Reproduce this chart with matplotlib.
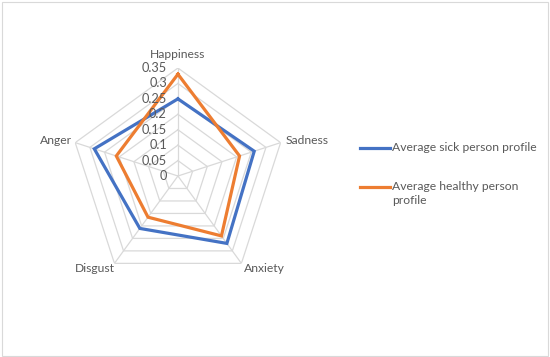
import numpy as np
import matplotlib
matplotlib.use("Agg")
import matplotlib.pyplot as plt
from matplotlib.lines import Line2D
from matplotlib.patches import Rectangle

categories = ["Happiness", "Sadness", "Anxiety", "Disgust", "Anger"]
sick = [0.25, 0.26, 0.27, 0.21, 0.285]
healthy = [0.33, 0.21, 0.24, 0.165, 0.21]
ticks = [0, 0.05, 0.1, 0.15, 0.2, 0.25, 0.3, 0.35]
tick_labels = ["0", "0.05", "0.1", "0.15", "0.2", "0.25", "0.3", "0.35"]
series_names = ["Average sick person profile", "Average healthy person\nprofile"]

plt.rcParams['font.family'] = ['Lato', 'DejaVu Sans']
BLUE = "#4472C4"
ORANGE = "#ED7D31"
GRID = "#D9D9D9"
TXT = "#595959"
FS = 8.7
W, H = 550, 357

fig = plt.figure(figsize=(5.5, 3.57), dpi=100)
fig.patches.append(Rectangle((0.003, 0.004), 0.994, 0.99, transform=fig.transFigure,
                             fill=False, edgecolor="#D9D9D9", linewidth=0.8))
ax = fig.add_axes([0.127, 0.2045, 0.393, 0.605], projection='polar')
ax.set_theta_zero_location('N')
ax.set_theta_direction(-1)
ax.set_ylim(0, 0.35)
ax.grid(False)
ax.spines['polar'].set_visible(False)
ax.set_xticks([])
ax.set_yticks([])
ax.patch.set_alpha(0)

n = len(categories)
theta = np.arange(n) * 2 * np.pi / n
tc = np.append(theta, theta[0])

for t in ticks[1:]:
    ax.plot(tc, [t] * (n + 1), color=GRID, lw=0.9, zorder=1)
for th in theta:
    ax.plot([th, th], [0, ticks[-1]], color=GRID, lw=0.9, zorder=1)

ax.plot(tc, sick + [sick[0]], color=BLUE, lw=2.3, zorder=3, solid_joinstyle='miter')
ax.plot(tc, healthy + [healthy[0]], color=ORANGE, lw=2.3, zorder=4, solid_joinstyle='miter')

for t, lab in zip(ticks, tick_labels):
    ax.annotate(lab, xy=(0, t), xytext=(-11, 0), textcoords='offset pixels',
                ha='right', va='center', fontsize=FS + 0.5, color=TXT, zorder=5)

offsets = [(0, 8, 'center', 'bottom'), (5, 2, 'left', 'center'),
           (23, -5, 'center', 'center'), (-20, -5, 'center', 'center'),
           (-3, 2, 'right', 'center')]
for th, lab, (dx, dy, ha, va) in zip(theta, categories, offsets):
    ax.annotate(lab, xy=(th, ticks[-1]), xytext=(dx, dy), textcoords='offset pixels',
                ha=ha, va=va, fontsize=FS, color=TXT)

# legend
leg_y = [148, 187]
for (y, name, col) in zip(leg_y, series_names, [BLUE, ORANGE]):
    fig.add_artist(Line2D([360 / W, 390 / W], [1 - y / H, 1 - y / H], color=col, lw=2.3,
                          transform=fig.transFigure))
    fig.text(392 / W, 1 - (y - 6) / H, name, ha='left', va='top', fontsize=FS,
             color=TXT, linespacing=1.3)

fig.savefig("out.png", dpi=100)
